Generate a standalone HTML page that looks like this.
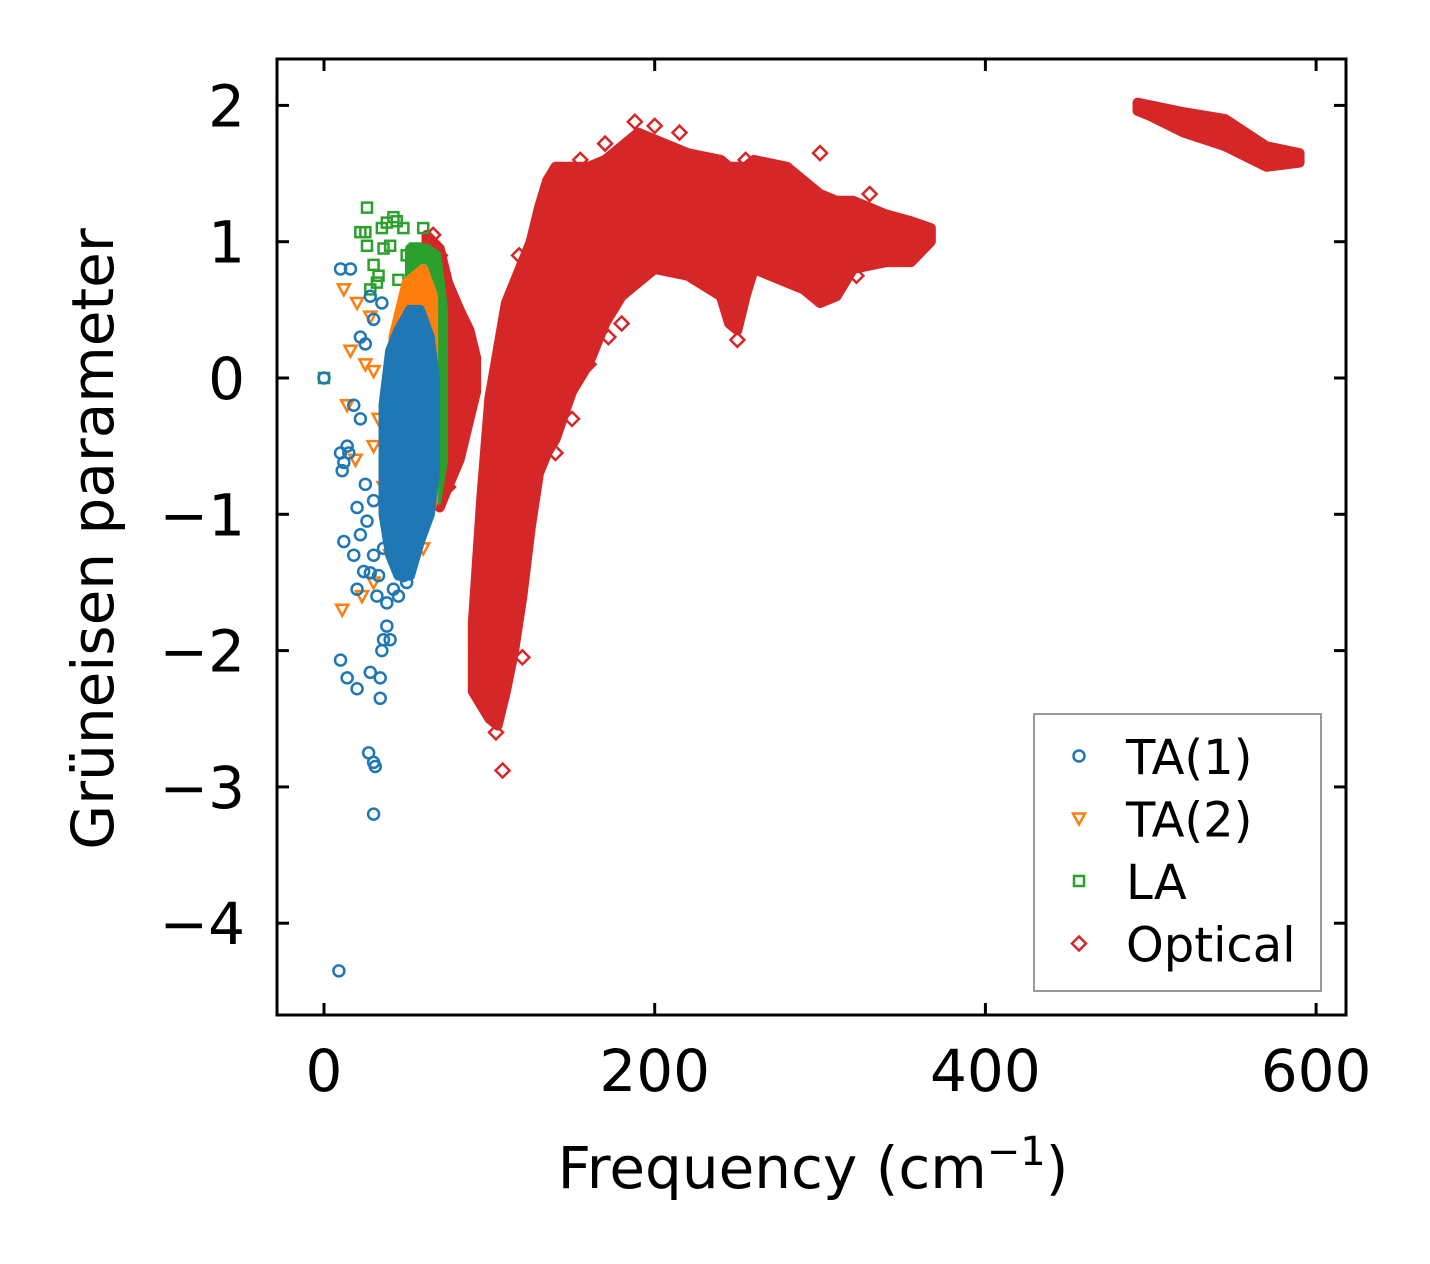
<!DOCTYPE html>
<html><head><meta charset="utf-8"><style>
html,body{margin:0;padding:0;background:#fff}
svg{display:block;font-family:"DejaVu Sans","Liberation Sans",sans-serif}
</style></head><body>
<svg id="chart" width="1430" height="1264" viewBox="0 0 1430 1264">
<rect width="1430" height="1264" fill="#fff"/>
<g id="plot"></g>
<g id="axes"></g>
<text x="813" y="1188" font-size="58" text-anchor="middle">Frequency (cm<tspan font-size="40" dy="-23">−1</tspan><tspan dy="23">)</tspan></text>
<text transform="translate(113,539) rotate(-90)" font-size="58" text-anchor="middle">Grüneisen parameter</text>
<g id="legend">
<rect x="1034" y="714" width="287" height="277" fill="#fff" stroke="#999" stroke-width="2"/>
</g>
</svg>
<script>
const xTicks=[0,200,400,600];
const yTicks=[2,1,0,-1,-2,-3,-4];
const yTickLabels=["2","1","0","−1","−2","−3","−4"];
// optical bands: freq, ymin, ymax
const optLobeX=[62,66,70,75,82,88,92];
const optLobeLo=[0.75,-0.9,-0.95,-0.8,-0.6,-0.3,-0.1];
const optLobeHi=[1.05,1.0,0.95,0.7,0.5,0.35,0.15];
const optMainX=[90,95,100,105,110,115,120,125,130,135,140,150,160,170,180,190,200,220,240,245,250,255,260,280,290,300,310,320,340,355,367];
const optMainLo=[-2.3,-2.4,-2.5,-2.55,-2.3,-2.0,-1.6,-1.1,-0.7,-0.55,-0.45,-0.1,0.1,0.4,0.6,0.7,0.8,0.75,0.6,0.4,0.35,0.6,0.8,0.7,0.65,0.55,0.6,0.8,0.85,0.85,1.0];
const optMainHi=[-1.8,-0.9,-0.15,0.2,0.55,0.7,0.85,1.0,1.25,1.45,1.55,1.55,1.55,1.6,1.7,1.8,1.75,1.65,1.6,1.55,1.55,1.55,1.6,1.55,1.45,1.35,1.3,1.3,1.2,1.15,1.1];
const optHighX=[492,500,520,545,570,590];
const optHighLo=[1.96,1.92,1.8,1.7,1.55,1.58];
const optHighHi=[2.02,2.0,1.95,1.9,1.7,1.65];
const laX=[52,58,62,68,72];
const laLo=[0.4,-0.6,-0.8,-0.9,-0.6];
const laHi=[0.95,0.95,0.95,0.9,0.5];
const ta2X=[42,50,60,66];
const ta2Lo=[-1.2,-1.3,-1.1,-0.9];
const ta2Hi=[0.3,0.7,0.8,0.6];
const ta1X=[36,40,45,52,58,64,67];
const ta1Lo=[-1.0,-1.3,-1.45,-1.45,-1.2,-1.0,-0.7];
const ta1Hi=[-0.2,0.2,0.35,0.5,0.5,0.3,0.0];
// scattered points
const ta1PX=[10,16,0,9,30,27,30,31,10,14,20,28,34,34,35,38,40,36,12,18,20,24,28,32,10,12,14,11,20,25,22,25,28,30,35,22,18,30,15,22,26,30,33,36,42,45,48,50,38];
const ta1PY=[0.8,0.8,0,-4.35,-3.2,-2.75,-2.82,-2.85,-2.07,-2.2,-2.28,-2.16,-2.35,-2.2,-2.0,-1.82,-1.92,-1.92,-1.2,-1.3,-1.55,-1.42,-1.43,-1.6,-0.55,-0.62,-0.5,-0.68,-0.95,-0.78,0.3,0.25,0.6,0.43,0.55,-0.3,-0.2,-0.9,-0.55,-1.15,-1.05,-1.3,-1.45,-1.25,-1.55,-1.6,-1.45,-1.5,-1.65];
const ta2PX=[12,20,16,25,14,19,30,11,23,30,40,50,36,45,60,30,28,33];
const ta2PY=[0.65,0.55,0.2,0.1,-0.2,-0.6,-0.5,-1.7,-1.6,-1.5,-1.3,-1.25,-0.8,-1.0,-1.25,0.05,0.45,-0.3];
const laPX=[26,22,25,26,30,33,35,38,42,44,48,36,40,28,32,45,50,55,60,0];
const laPY=[1.25,1.07,1.07,0.97,0.83,0.75,1.1,1.14,1.18,1.15,1.1,0.95,0.97,0.65,0.7,0.72,0.9,0.95,1.1,0];
const optPX=[108,104,118,155,170,188,200,215,255,300,330,322,250,226,150,140,160,172,180,120,98,66,70,75,125,135];
const optPY=[-2.88,-2.6,0.9,1.6,1.72,1.88,1.85,1.8,1.6,1.65,1.35,0.75,0.28,0.75,-0.3,-0.55,0.1,0.3,0.4,-2.05,-2.15,1.05,0.9,-0.8,0.6,0.3];

const L=277,R=1346,T=59,B=1015;
const xs=v=>324+v*1.6535;
const ys=v=>378-v*136.3;
const NS="http://www.w3.org/2000/svg";
const plot=document.getElementById('plot'),axes=document.getElementById('axes'),legend=document.getElementById('legend');
const C={ta1:"#1f77b4",ta2:"#ff7f0e",la:"#2ca02c",opt:"#d62728"};
function mk(tag,attrs,parent){const e=document.createElementNS(NS,tag);for(const k in attrs)e.setAttribute(k,attrs[k]);parent.appendChild(e);return e;}
function band(X,Lo,Hi,color,name){
  let pts=X.map((x,i)=>xs(x)+","+ys(Hi[i]));
  for(let i=X.length-1;i>=0;i--)pts.push(xs(X[i])+","+ys(Lo[i]));
  const p=mk('polygon',{points:pts.join(' '),fill:color,stroke:color,'stroke-width':10,'stroke-linejoin':'round'},plot);
  
  
}
function marker(kind,cx,cy,parent){
  let e;
  if(kind==='ta1')e=mk('circle',{cx:cx,cy:cy,r:5.5,fill:'none',stroke:C.ta1,'stroke-width':2.5},parent);
  else if(kind==='ta2')e=mk('polygon',{points:`${cx-6},${cy-5} ${cx+6},${cy-5} ${cx},${cy+6}`,fill:'none',stroke:C.ta2,'stroke-width':2.5},parent);
  else if(kind==='la')e=mk('rect',{x:cx-5,y:cy-5,width:10,height:10,fill:'none',stroke:C.la,'stroke-width':2.5},parent);
  else e=mk('polygon',{points:`${cx},${cy-7} ${cx+7},${cy} ${cx},${cy+7} ${cx-7},${cy}`,fill:'none',stroke:C.opt,'stroke-width':2.5},parent);
  return e;
}
function pts(kind,X,Y){X.forEach((x,i)=>{const e=marker(kind,xs(x),ys(Y[i]),plot);
  
  });}
band(optLobeX,optLobeLo,optLobeHi,C.opt,'optical-band-low');
band(optMainX,optMainLo,optMainHi,C.opt,'optical-band-main');
band(optHighX,optHighLo,optHighHi,C.opt,'optical-band-high');
pts('opt',optPX,optPY);
band(laX,laLo,laHi,C.la,'la-band');
pts('la',laPX,laPY);
band(ta2X,ta2Lo,ta2Hi,C.ta2,'ta2-band');
pts('ta2',ta2PX,ta2PY);
band(ta1X,ta1Lo,ta1Hi,C.ta1,'ta1-band');
pts('ta1',ta1PX,ta1PY);
const fr=mk('rect',{x:L,y:T,width:R-L,height:B-T,fill:'none',stroke:'#000','stroke-width':3},axes);


xTicks.forEach(v=>{const x=xs(v);
  mk('line',{x1:x,x2:x,y1:B,y2:B-12,stroke:'#000','stroke-width':3},axes);
  mk('line',{x1:x,x2:x,y1:T,y2:T+12,stroke:'#000','stroke-width':3},axes);
  const t=mk('text',{x:x,y:B+76,'font-size':58,'text-anchor':'middle'},axes);t.textContent=v;
  
  });
yTicks.forEach((v,i)=>{const y=ys(v);
  mk('line',{x1:L,x2:L+12,y1:y,y2:y,stroke:'#000','stroke-width':3},axes);
  mk('line',{x1:R,x2:R-12,y1:y,y2:y,stroke:'#000','stroke-width':3},axes);
  const t=mk('text',{x:245,y:y+21,'font-size':58,'text-anchor':'end'},axes);t.textContent=yTickLabels[i];
  
  });
const labels=["TA(1)","TA(2)","LA","Optical"],kinds=['ta1','ta2','la','opt'];
labels.forEach((lab,i)=>{const y=756+i*62.5;
  const m=marker(kinds[i],1079,y,legend);
  
  
  const t=mk('text',{x:1126,y:y+18,'font-size':48},legend);t.textContent=lab;
  
  });
</script>
</body></html>
